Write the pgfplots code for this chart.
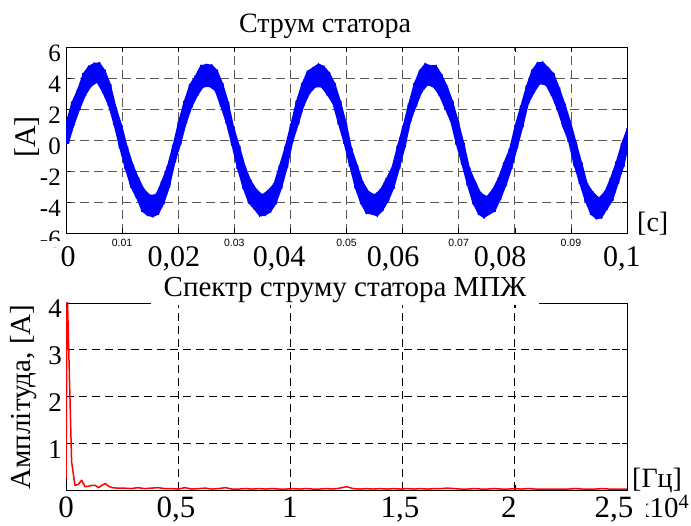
\documentclass[border=0pt]{standalone}
\usepackage{fontspec}
\setmainfont{Liberation Serif}
\newfontfamily\sansf{Liberation Sans}
\usepackage{pgfplots}
\pgfplotsset{compat=1.18}
\begin{document}
\begin{tikzpicture}
\path[use as bounding box] (0pt,0pt) rectangle (691pt,526pt);
\node[anchor=base west, inner sep=0pt, font=\fontsize{29}{30}\selectfont] at (635pt,8pt) {x10\textsuperscript{4}};
\begin{axis}[
  at={(66pt,293pt)}, anchor=south west, scale only axis,
  width=561pt, height=186pt,
  xmin=0, xmax=0.1, ymin=-6, ymax=6,
  axis line style={line width=0.9pt, black},
  xtick={0,0.01,0.02,0.03,0.04,0.05,0.06,0.07,0.08,0.09,0.1},
  xticklabels={,0.01,,0.03,,0.05,,0.07,,0.09,},
  ytick={-6,-4,-2,0,2,4,6},
  yticklabels={-6,-4,-2,0,2,4,6},
  grid=major,
  grid style={dash pattern=on 9pt off 5pt, color=black!65, line width=0.8pt},
  tick align=inside, xtick pos=both, ytick pos=both, major tick length=5pt,
  tick style={black, line width=0.6pt},
  xticklabel style={font=\sansf\fontsize{10.5}{12}\selectfont, anchor=base, inner sep=0pt, yshift=-14pt},
  yticklabel style={font=\fontsize{25}{26}\selectfont, anchor=east, inner sep=0pt, xshift=-5pt, yshift=-6.5pt},
  extra x ticks={0.00036,0.01925,0.0380,0.0583,0.0774,0.0991},
  extra x tick labels={0,{0,02},{0,04},{0,06},{0,08},{0,1}},
  extra x tick style={grid=none, major tick length=0pt,
    xticklabel style={font=\fontsize{30}{32}\selectfont, yshift=-20pt}},
]
% band of the noisy current: upper envelope forward, lower envelope back
\addplot[draw=none, fill=blue, forget plot] coordinates {
(0,1.20)(0.001,2.45)(0.002,3.26)(0.003,4.30)(0.004,4.78)(0.005,4.98)(0.006,5.01)(0.007,4.51)(0.008,3.59)(0.009,2.10)
(0.01,0.96)(0.011,-0.44)(0.012,-1.58)(0.013,-2.45)(0.014,-3.17)(0.015,-3.54)(0.016,-3.49)(0.017,-2.66)(0.018,-1.69)(0.019,-0.33)
(0.02,1.20)(0.021,2.51)(0.022,3.59)(0.023,4.15)(0.024,4.83)(0.025,4.90)(0.026,4.87)(0.027,4.51)(0.028,3.65)(0.029,2.45)
(0.03,0.78)(0.031,-0.39)(0.032,-1.69)(0.033,-2.60)(0.034,-3.17)(0.035,-3.50)(0.036,-3.22)(0.037,-2.81)(0.038,-1.63)(0.039,-0.44)
(0.04,1.02)(0.041,2.51)(0.042,3.65)(0.043,4.46)(0.044,4.69)(0.045,4.94)(0.046,4.78)(0.047,4.36)(0.048,3.65)(0.049,2.51)
(0.05,1.14)(0.051,-0.56)(0.052,-1.63)(0.053,-2.71)(0.054,-3.31)(0.055,-3.50)(0.056,-3.17)(0.057,-2.50)(0.058,-1.80)(0.059,-0.39)
(0.06,0.90)(0.061,2.33)(0.062,3.65)(0.063,4.51)(0.064,4.96)(0.065,4.82)(0.066,4.83)(0.067,4.25)(0.068,3.48)(0.069,2.51)
(0.07,1.20)(0.071,-0.21)(0.072,-1.80)(0.073,-2.66)(0.074,-3.40)(0.075,-3.62)(0.076,-3.17)(0.077,-2.45)(0.078,-1.46)(0.079,-0.56)
(0.08,0.96)(0.081,2.21)(0.082,3.48)(0.083,4.51)(0.084,5.01)(0.085,5.06)(0.086,4.69)(0.087,4.30)(0.088,3.37)(0.089,2.33)
(0.09,1.20)(0.091,-0.15)(0.092,-1.46)(0.093,-2.81)(0.094,-3.35)(0.095,-3.70)(0.096,-3.31)(0.097,-2.45)(0.098,-1.41)(0.099,-0.21)
(0.1,0.78)
(0.1,-0.90)(0.0995,-1.69)(0.0985,-2.82)(0.0975,-3.91)(0.0965,-4.47)(0.0955,-5.06)(0.0945,-5.11)(0.0935,-4.81)(0.0925,-3.96)(0.0915,-2.82)(0.0905,-1.63)
(0.0895,-0.10)(0.0885,0.85)(0.0875,1.96)(0.0865,2.85)(0.0855,3.52)(0.0845,3.60)(0.0835,3.05)(0.0825,2.34)(0.0815,0.85)(0.0805,-0.52)
(0.0795,-1.86)(0.0785,-2.94)(0.0775,-3.85)(0.0765,-4.62)(0.0755,-4.81)(0.0745,-5.06)(0.0735,-4.81)(0.0725,-4.12)(0.0715,-2.94)(0.0705,-1.57)
(0.0695,-0.28)(0.0685,1.20)(0.0675,2.02)(0.0665,2.85)(0.0655,3.39)(0.0645,3.52)(0.0635,3.10)(0.0625,2.18)(0.0615,1.20)(0.0605,-0.46)
(0.0595,-1.86)(0.0585,-3.11)(0.0575,-3.96)(0.0565,-4.57)(0.0555,-4.94)(0.0545,-4.81)(0.0535,-4.76)(0.0525,-4.12)(0.0515,-3.11)(0.0505,-1.69)
(0.0495,-0.22)(0.0485,1.02)(0.0475,2.34)(0.0465,2.90)(0.0455,3.39)(0.0445,3.39)(0.0435,3.00)(0.0425,2.23)(0.0415,1.02)(0.0405,-0.10)
(0.0395,-1.80)(0.0385,-3.11)(0.0375,-4.12)(0.0365,-4.66)(0.0355,-4.89)(0.0345,-4.94)(0.0335,-4.47)(0.0325,-4.07)(0.0315,-3.11)(0.0305,-1.86)
(0.0295,-0.34)(0.0285,1.08)(0.0275,2.18)(0.0265,3.19)(0.0255,3.43)(0.0245,3.39)(0.0235,2.85)(0.0225,2.12)(0.0215,1.08)(0.0205,-0.28)
(0.0195,-1.45)(0.0185,-3.05)(0.0175,-4.12)(0.0165,-4.81)(0.0155,-4.98)(0.0145,-4.89)(0.0135,-4.62)(0.0125,-3.74)(0.0115,-3.05)(0.0105,-1.86)
(0.0095,-0.52)(0.0085,0.97)(0.0075,2.23)(0.0065,3.05)(0.0055,3.69)(0.0045,3.43)(0.0035,2.85)(0.0025,1.96)(0.0015,0.97)(0.0005,-0.22)(0,-0.30)
} -- cycle;
% the noisy stator current itself
\addplot[blue, line width=1.2pt, line join=round] coordinates {
(0,1.20)(0.0005,-0.22)(0.001,2.45)(0.0015,0.97)(0.002,3.26)(0.0025,1.96)(0.003,4.30)(0.0035,2.85)(0.004,4.78)(0.0045,3.43)
(0.005,4.98)(0.0055,3.69)(0.006,5.01)(0.0065,3.05)(0.007,4.51)(0.0075,2.23)(0.008,3.59)(0.0085,0.97)(0.009,2.10)(0.0095,-0.52)
(0.01,0.96)(0.0105,-1.86)(0.011,-0.44)(0.0115,-3.05)(0.012,-1.58)(0.0125,-3.74)(0.013,-2.45)(0.0135,-4.62)(0.014,-3.17)(0.0145,-4.89)
(0.015,-3.54)(0.0155,-4.98)(0.016,-3.49)(0.0165,-4.81)(0.017,-2.66)(0.0175,-4.12)(0.018,-1.69)(0.0185,-3.05)(0.019,-0.33)(0.0195,-1.45)
(0.02,1.20)(0.0205,-0.28)(0.021,2.51)(0.0215,1.08)(0.022,3.59)(0.0225,2.12)(0.023,4.15)(0.0235,2.85)(0.024,4.83)(0.0245,3.39)
(0.025,4.90)(0.0255,3.43)(0.026,4.87)(0.0265,3.19)(0.027,4.51)(0.0275,2.18)(0.028,3.65)(0.0285,1.08)(0.029,2.45)(0.0295,-0.34)
(0.03,0.78)(0.0305,-1.86)(0.031,-0.39)(0.0315,-3.11)(0.032,-1.69)(0.0325,-4.07)(0.033,-2.60)(0.0335,-4.47)(0.034,-3.17)(0.0345,-4.94)
(0.035,-3.50)(0.0355,-4.89)(0.036,-3.22)(0.0365,-4.66)(0.037,-2.81)(0.0375,-4.12)(0.038,-1.63)(0.0385,-3.11)(0.039,-0.44)(0.0395,-1.80)
(0.04,1.02)(0.0405,-0.10)(0.041,2.51)(0.0415,1.02)(0.042,3.65)(0.0425,2.23)(0.043,4.46)(0.0435,3.00)(0.044,4.69)(0.0445,3.39)
(0.045,4.94)(0.0455,3.39)(0.046,4.78)(0.0465,2.90)(0.047,4.36)(0.0475,2.34)(0.048,3.65)(0.0485,1.02)(0.049,2.51)(0.0495,-0.22)
(0.05,1.14)(0.0505,-1.69)(0.051,-0.56)(0.0515,-3.11)(0.052,-1.63)(0.0525,-4.12)(0.053,-2.71)(0.0535,-4.76)(0.054,-3.31)(0.0545,-4.81)
(0.055,-3.50)(0.0555,-4.94)(0.056,-3.17)(0.0565,-4.57)(0.057,-2.50)(0.0575,-3.96)(0.058,-1.80)(0.0585,-3.11)(0.059,-0.39)(0.0595,-1.86)
(0.06,0.90)(0.0605,-0.46)(0.061,2.33)(0.0615,1.20)(0.062,3.65)(0.0625,2.18)(0.063,4.51)(0.0635,3.10)(0.064,4.96)(0.0645,3.52)
(0.065,4.82)(0.0655,3.39)(0.066,4.83)(0.0665,2.85)(0.067,4.25)(0.0675,2.02)(0.068,3.48)(0.0685,1.20)(0.069,2.51)(0.0695,-0.28)
(0.07,1.20)(0.0705,-1.57)(0.071,-0.21)(0.0715,-2.94)(0.072,-1.80)(0.0725,-4.12)(0.073,-2.66)(0.0735,-4.81)(0.074,-3.40)(0.0745,-5.06)
(0.075,-3.62)(0.0755,-4.81)(0.076,-3.17)(0.0765,-4.62)(0.077,-2.45)(0.0775,-3.85)(0.078,-1.46)(0.0785,-2.94)(0.079,-0.56)(0.0795,-1.86)
(0.08,0.96)(0.0805,-0.52)(0.081,2.21)(0.0815,0.85)(0.082,3.48)(0.0825,2.34)(0.083,4.51)(0.0835,3.05)(0.084,5.01)(0.0845,3.60)
(0.085,5.06)(0.0855,3.52)(0.086,4.69)(0.0865,2.85)(0.087,4.30)(0.0875,1.96)(0.088,3.37)(0.0885,0.85)(0.089,2.33)(0.0895,-0.10)
(0.09,1.20)(0.0905,-1.63)(0.091,-0.15)(0.0915,-2.82)(0.092,-1.46)(0.0925,-3.96)(0.093,-2.81)(0.0935,-4.81)(0.094,-3.35)(0.0945,-5.11)
(0.095,-3.70)(0.0955,-5.06)(0.096,-3.31)(0.0965,-4.47)(0.097,-2.45)(0.0975,-3.91)(0.098,-1.41)(0.0985,-2.82)(0.099,-0.21)(0.0995,-1.69)
(0.1,0.78)
};
\end{axis}
\begin{axis}[
  at={(66pt,36pt)}, anchor=south west, scale only axis,
  width=561pt, height=187pt,
  xmin=0, xmax=25000, ymin=0, ymax=4,
  scaled x ticks=false,
  axis line style={line width=0.9pt, black},
  xtick={0,5000,10000,15000,20000,25000},
  xticklabels={},
  ytick={0,1,2,3,4},
  yticklabels={,1,2,3,4},
  grid=major,
  grid style={dash pattern=on 8pt off 5pt, color=black, line width=0.7pt},
  tick align=inside, xtick pos=both, ytick pos=both, major tick length=5pt,
  tick style={black, line width=0.6pt},
  xticklabel style={font=\fontsize{31}{32}\selectfont, anchor=base, inner sep=0pt, yshift=-28pt},
  yticklabel style={font=\fontsize{27}{28}\selectfont, anchor=east, inner sep=0pt, xshift=-4pt, yshift=-6pt},
  extra x ticks={0,4902,9982,14883,19741,24421},
  extra x tick labels={0,{0,5},1,{1,5},2,{2,5}},
  extra x tick style={grid=none, major tick length=0pt,
    xticklabel style={fill=white, inner xsep=13pt, inner ysep=1pt}},
]
\addplot[red, line width=1.5pt, line join=round] coordinates {
(0,0.25)(50,4.35)(250,0.6)(400,0.1)(550,0.12)(700,0.21)(850,0.07)(1000,0.08)(1150,0.1)(1300,0.1)
(1450,0.05)(1600,0.1)(1750,0.14)(1900,0.08)(2050,0.05)(2300,0.04)(2600,0.04)(2900,0.03)(3200,0.05)(3500,0.03)
(3800,0.04)(4100,0.05)(4400,0.03)(4700,0.03)(5000,0.02)(5300,0.05)(5600,0.02)(5900,0.03)(6200,0.04)(6500,0.02)
(6800,0.03)(7100,0.05)(7400,0.02)(7700,0.02)(8000,0.03)(8300,0.02)(8600,0.03)(8900,0.02)(9200,0.03)(9500,0.02)
(9800,0.02)(10100,0.03)(10400,0.02)(10700,0.03)(11000,0.02)(11300,0.02)(11600,0.03)(11900,0.02)(12200,0.04)(12500,0.07)
(12800,0.03)(13100,0.02)(13400,0.03)(13700,0.02)(14000,0.03)(14300,0.02)(14600,0.03)(14900,0.02)(15200,0.03)(15500,0.02)
(15800,0.03)(16100,0.02)(16400,0.03)(16700,0.03)(17000,0.04)(17300,0.03)(17600,0.02)(17900,0.02)(18200,0.03)(18500,0.02)
(18800,0.02)(19100,0.03)(19400,0.02)(19700,0.02)(20000,0.03)(20300,0.02)(20600,0.03)(20900,0.02)(21200,0.02)(21500,0.02)
(21800,0.02)(22100,0.02)(22400,0.02)(22700,0.03)(23000,0.02)(23300,0.02)(23600,0.02)(23900,0.03)(24200,0.02)(24500,0.02)
(24800,0.02)(25000,0.02)
};
\end{axis}
\fill[white] (30pt,279pt) rectangle (64pt,284.5pt);
\node[anchor=base, inner sep=0pt, font=\fontsize{28}{30}\selectfont] at (325pt,493pt) {Струм статора};
\node[anchor=base, fill=white, inner xsep=13pt, inner ysep=2pt, font=\fontsize{29}{30}\selectfont] at (345pt,229pt) {Спектр струму статора МПЖ};
\node[anchor=base west, inner sep=0pt, font=\fontsize{28}{30}\selectfont] at (637pt,294pt) {[c]};
\node[anchor=base west, inner sep=0pt, font=\fontsize{28}{30}\selectfont] at (632pt,38pt) {[Гц]};
\node[rotate=90, inner sep=0pt, font=\fontsize{30}{32}\selectfont] at (27pt,389pt) {[A]};
\node[rotate=90, inner sep=0pt, font=\fontsize{29}{30}\selectfont] at (24pt,129pt) {Амплітуда, [A]};
\end{tikzpicture}
\end{document}
